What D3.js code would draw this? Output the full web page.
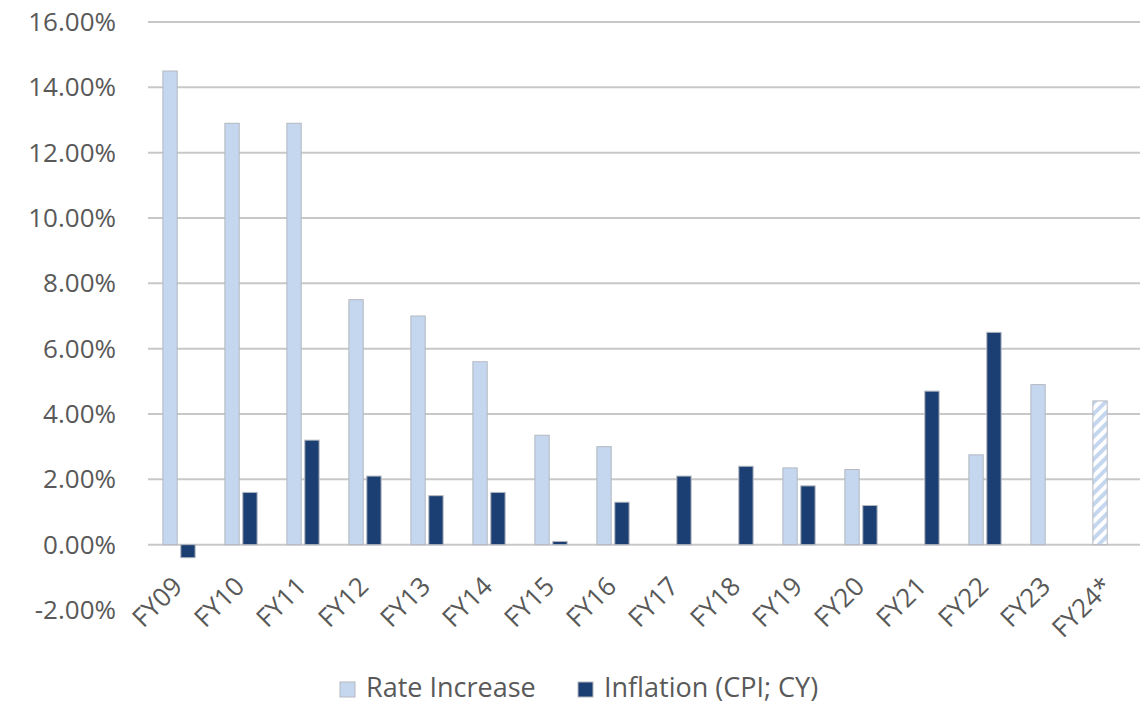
<!doctype html>
<html lang="en">
<head>
<meta charset="UTF-8">
<title>Rate Increase vs Inflation</title>
<script src="https://cdn.jsdelivr.net/npm/d3@7"></script>
<style>
  body { margin: 0; background: #fff; }
  svg text { font-family: "Open Sans", "Noto Sans", sans-serif; fill: #595959; }
</style>
</head>
<body>
<script>
var categories = ["FY09","FY10","FY11","FY12","FY13","FY14","FY15","FY16","FY17","FY18","FY19","FY20","FY21","FY22","FY23","FY24*"];
var rateIncrease = [14.5, 12.9, 12.9, 7.5, 7.0, 5.6, 3.35, 3.0, null, null, 2.35, 2.3, null, 2.75, 4.9, 4.4];
var inflation = [-0.4, 1.6, 3.2, 2.1, 1.5, 1.6, 0.1, 1.3, 2.1, 2.4, 1.8, 1.2, 4.7, 6.5, null, null];
var yTicks = [-2, 0, 2, 4, 6, 8, 10, 12, 14, 16];
var seriesNames = ["Rate Increase", "Inflation (CPI; CY)"];
var projected = ["FY24*"];

var w = 1146, h = 705;
var colors = ["#c5d7ef", "#1b3f73"];

var svg = d3.select("body").append("svg")
  .attr("width", w).attr("height", h);

var defs = svg.append("defs");
var pat = defs.append("pattern")
  .attr("id", "hatch")
  .attr("patternUnits", "userSpaceOnUse")
  .attr("width", 8).attr("height", 8)
  .attr("patternTransform", "rotate(-45)");
pat.append("rect").attr("width", 8).attr("height", 8).attr("fill", "#fff");
pat.append("rect").attr("width", 8).attr("height", 4).attr("fill", colors[0]);

var x = d3.scaleBand().domain(categories).range([148, 1140])
  .paddingInner(0.48).paddingOuter(0.24);
var x1 = d3.scaleBand().domain([0, 1]).range([0, x.bandwidth()]).paddingInner(0.2);
var y = d3.scaleLinear().domain([-2, 16]).range([610, 22]);

// gridlines
svg.append("g").selectAll("line")
  .data(yTicks.filter(function(d){ return d !== -2; }))
  .enter().append("line")
  .attr("x1", 148).attr("x2", 1140)
  .attr("y1", function(d){ return y(d); })
  .attr("y2", function(d){ return y(d); })
  .attr("stroke", "#c8c8c8")
  .attr("stroke-width", 2);

// y labels
svg.append("g").selectAll("text")
  .data(yTicks).enter().append("text")
  .attr("x", 116)
  .attr("y", function(d){ return y(d); })
  .attr("dy", "0.35em")
  .attr("text-anchor", "end")
  .attr("font-size", 26)
  .text(function(d){ return d.toFixed(2) + "%"; });

// bars
var series = [rateIncrease, inflation];
series.forEach(function(vals, s){
  svg.append("g").selectAll("rect")
    .data(categories.map(function(c, i){ return {c: c, v: vals[i]}; })
      .filter(function(d){ return d.v !== null; }))
    .enter().append("rect")
    .attr("x", function(d){ return x(d.c) + x1(s); })
    .attr("width", x1.bandwidth())
    .attr("y", function(d){ return y(Math.max(0, d.v)); })
    .attr("height", function(d){ return Math.abs(y(d.v) - y(0)); })
    .attr("fill", function(d){
      return (s === 0 && projected.indexOf(d.c) >= 0) ? "url(#hatch)" : colors[s];
    })
    .attr("stroke", "#b4b8c0")
    .attr("stroke-width", 1);
});

// x labels
svg.append("g").selectAll("text")
  .data(categories).enter().append("text")
  .attr("transform", function(d){
    return "translate(" + (x(d) + x.bandwidth() / 2 + 5) + ",588) rotate(-45)";
  })
  .attr("text-anchor", "end")
  .attr("font-size", 26)
  .text(function(d){ return d; });

// legend
var legend = svg.append("g");
var lx = [340, 578];
seriesNames.forEach(function(name, i){
  legend.append("rect")
    .attr("x", lx[i]).attr("y", 682)
    .attr("width", 15).attr("height", 15)
    .attr("fill", colors[i])
    .attr("stroke", "#b4b8c0");
  legend.append("text")
    .attr("x", lx[i] + 26).attr("y", 688)
    .attr("dy", "0.35em")
    .attr("font-size", 27)
    .text(name);
});
</script>
</body>
</html>
